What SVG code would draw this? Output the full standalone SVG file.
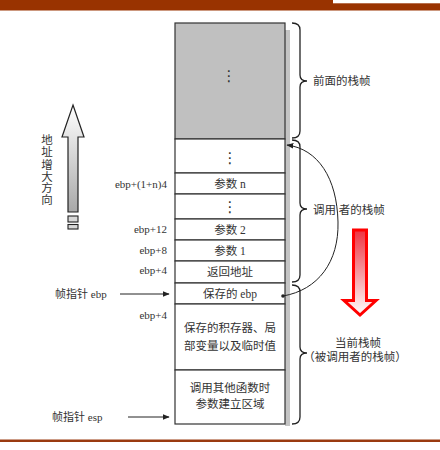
<svg xmlns="http://www.w3.org/2000/svg" width="440" height="450" viewBox="0 0 440 450">
<style>
.t{font-family:"Liberation Serif","Noto Sans CJK SC",serif;font-size:11.5px;fill:#333}
.l{font-family:"Liberation Serif","Noto Sans CJK SC",serif;font-size:11px;fill:#333}
.c{text-anchor:middle}
.r{text-anchor:end}
.row{fill:#fff;stroke:#333;stroke-width:1.2}
.brace{fill:none;stroke:#222;stroke-width:1.3}
.dots{font-family:"DejaVu Sans",sans-serif;font-size:15px;fill:#333;text-anchor:middle}
.ptr{stroke:#222;stroke-width:1;fill:none}
</style>
<defs>
<linearGradient id="gUp" x1="0" y1="1" x2="0" y2="0">
<stop offset="0" stop-color="#a8a8a8"/>
<stop offset="1" stop-color="#ffffff"/>
</linearGradient>
<linearGradient id="gDown" x1="0" y1="0" x2="0" y2="1">
<stop offset="0" stop-color="#ee3340"/>
<stop offset="1" stop-color="#ffffff"/>
</linearGradient>
<marker id="ah" viewBox="0 0 10 10" refX="9" refY="5" markerWidth="7" markerHeight="7" orient="auto" markerUnits="userSpaceOnUse">
<path d="M0,1 L10,5 L0,9 Z" fill="#222"/>
</marker>
</defs>
<rect width="440" height="450" fill="#fff"/>
<g id="frame">
<rect x="0" y="0" width="333" height="10.5" fill="#993300"/>
<rect x="333" y="3.3" width="107" height="7.2" fill="#993300"/>
<rect x="0" y="439.5" width="440" height="2.5" fill="#9a3a10"/>
</g>
<g id="stack">
<rect x="285" y="30" width="5" height="396" fill="#c4c4c4"/>
<g id="prev-frame">
<rect x="175" y="23" width="110" height="116" fill="#c0c0c0" stroke="#333" stroke-width="1.2"/>
<text class="dots" x="229" y="81">⋮</text>
</g>
<g id="row-dots1"><rect class="row" x="175" y="139" width="110" height="34"/><text class="dots" x="230" y="163">⋮</text></g>
<g id="row-argn"><rect class="row" x="175" y="173" width="110" height="21"/><text class="t c" x="230" y="188">参数 n</text></g>
<g id="row-dots2"><rect class="row" x="175" y="194" width="110" height="25"/><text class="dots" x="230" y="212">⋮</text></g>
<g id="row-arg2"><rect class="row" x="175" y="219" width="110" height="21"/><text class="t c" x="230" y="234">参数 2</text></g>
<g id="row-arg1"><rect class="row" x="175" y="240" width="110" height="21"/><text class="t c" x="230" y="255">参数 1</text></g>
<g id="row-ret"><rect class="row" x="175" y="261" width="110" height="22"/><text class="t c" x="230" y="276">返回地址</text></g>
<g id="row-ebp"><rect class="row" x="175" y="283" width="110" height="21"/><text class="t c" x="230" y="298">保存的 ebp</text></g>
<g id="row-locals"><rect class="row" x="175" y="304" width="110" height="66"/><text class="t c" x="230" y="332">保存的积存器、局</text><text class="t c" x="230" y="350">部变量以及临时值</text></g>
<g id="row-args-area"><rect class="row" x="175" y="370" width="110" height="54"/><text class="t c" x="230" y="392">调用其他函数时</text><text class="t c" x="230" y="408">参数建立区域</text></g>
</g>
<g id="offsets">
<text class="l r" x="167" y="188">ebp+(1+n)4</text>
<text class="l r" x="167" y="233">ebp+12</text>
<text class="l r" x="167" y="254">ebp+8</text>
<text class="l r" x="167" y="274">ebp+4</text>
<text class="l r" x="167" y="319">ebp+4</text>
</g>
<g id="ptr-ebp"><text class="l" x="55" y="298">帧指针 ebp</text></g>
<g id="ptr-esp"><text class="l" x="52" y="421">帧指针 esp</text></g>
<g id="addr-dir">
<path d="M73,105 L84,137 L78,137 L78,212 L68,212 L68,137 L62,137 Z" fill="url(#gUp)" stroke="#222" stroke-width="1.2" stroke-linejoin="miter"/>
<rect x="68" y="216" width="10" height="6" fill="#d8d8d8" stroke="#222" stroke-width="1.1"/>
<rect x="68" y="224.5" width="10" height="4.5" fill="#d8d8d8" stroke="#222" stroke-width="1.1"/>
<g class="t c">
<text x="47" y="144">地</text>
<text x="47" y="156">址</text>
<text x="47" y="169">增</text>
<text x="47" y="181">大</text>
<text x="47" y="192">方</text>
<text x="47" y="204">向</text>
</g>
</g>
<g id="brace-prev"><path class="brace" d="M292,23 Q300,23 300,30 L300,75 Q300,81 307,81 Q300,81 300,87 L300,131 Q300,138 292,138"/><text class="t" x="313" y="85">前面的栈帧</text></g>
<g id="brace-caller"><path class="brace" d="M292,140 Q300,140 300,147 L300,203 Q300,209 307,209 Q300,209 300,215 L300,275 Q300,282 292,282"/><text class="t" x="313" y="214">调用  者的栈帧</text></g>
<g id="brace-current"><path class="brace" d="M292,285 Q300,285 300,292 L300,347 Q300,353 307,353 Q300,353 300,359 L300,417 Q300,424 292,424"/><text class="t c" x="358" y="347">当前栈帧</text><text class="t c" x="355" y="361">（被调用者的栈帧）</text></g>
<g id="grow-arrow">
<path d="M353.5,230 L366.5,230 L366.5,300.5 L376,300.5 L360,315 L344,300.5 L353.5,300.5 Z" fill="url(#gDown)" stroke="#ff0000" stroke-width="3" stroke-linejoin="miter"/>
</g>
<g id="connectors">
<line class="ptr" x1="120" y1="294" x2="169" y2="294" marker-end="url(#ah)"/>
<line class="ptr" x1="128" y1="417" x2="169" y2="417" marker-end="url(#ah)"/>
<path class="ptr" d="M283,296 C318,290 339,262 338,222 C337,178 318,149 287,145" stroke-width="1.3" marker-end="url(#ah)"/>
<circle cx="283" cy="296" r="1.8" fill="#222"/>
</g>
</svg>
